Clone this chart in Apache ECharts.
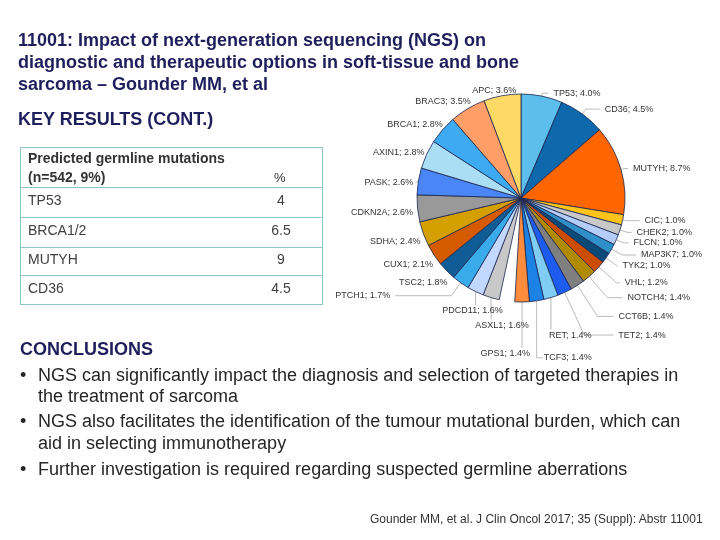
<!DOCTYPE html>
<html>
<head>
<meta charset="utf-8">
<script src="https://cdn.jsdelivr.net/npm/echarts@6/dist/echarts.min.js"></script>
<style>
  html, body { margin:0; padding:0; width:720px; height:540px; background:#fff; overflow:hidden; }
  #chart { position:absolute; left:0; top:0; width:720px; height:540px; }
  .t { position:absolute; font-family: Arial, "Liberation Sans", sans-serif; white-space:nowrap; }
  .title { color:#1e1e5c; font-weight:bold; font-size:18px; line-height:22px; }
  .tb { position:absolute; left:20px; top:147px; width:301px; height:156px; border:1px solid #8cc6cc; }
  .row { position:absolute; left:0; width:301px; border-top:1px solid #8cc6cc; }
  .cell { position:absolute; font-family: Arial, "Liberation Sans", sans-serif; font-size:14px; color:#404040; white-space:nowrap; }
  .body { color:#262626; font-size:18px; }
</style>
</head>
<body>
<div id="chart"></div>

<div class="t title" style="left:18px; top:29px;">11001: Impact of next-generation sequencing (NGS) on<br>diagnostic and therapeutic options in soft-tissue and bone<br>sarcoma – Gounder MM, et al</div>
<div class="t title" style="left:18px; top:108px;">KEY RESULTS (CONT.)</div>

<div class="tb">
  <div class="cell" style="left:7px; top:1px; font-weight:bold; font-size:14px; color:#333; line-height:19px;">Predicted germline mutations<br>(n=542, 9%)</div>
  <div class="cell" style="left:253px; top:22px; font-size:13px; color:#333;">%</div>
  <div class="row" style="top:39px;"></div>
  <div class="row" style="top:69px;"></div>
  <div class="row" style="top:99px;"></div>
  <div class="row" style="top:127px;"></div>
  <div id="tbody"></div>
</div>

<div class="t title" style="left:20px; top:338px;">CONCLUSIONS</div>
<div class="t body" style="left:20px; top:365px;">•</div>
<div class="t body" style="left:38px; top:365px;">NGS can significantly impact the diagnosis and selection of targeted therapies in</div>
<div class="t body" style="left:38px; top:386px;">the treatment of sarcoma</div>
<div class="t body" style="left:20px; top:411px;">•</div>
<div class="t body" style="left:38px; top:411px;">NGS also facilitates the identification of the tumour mutational burden, which can</div>
<div class="t body" style="left:38px; top:433px;">aid in selecting immunotherapy</div>
<div class="t body" style="left:20px; top:459px;">•</div>
<div class="t body" style="left:38px; top:459px;">Further investigation is required regarding suspected germline aberrations</div>
<div class="t" style="left:370px; top:512px; font-size:12px; color:#333;">Gounder MM, et al. J Clin Oncol 2017; 35 (Suppl): Abstr 11001</div>

<script>
// Table data
var tableGenes = ['TP53', 'BRCA1/2', 'MUTYH', 'CD36'];
var tableValues = ['4', '6.5', '9', '4.5'];

// Pie data (clockwise from 12 o'clock); '' is the unlabeled empty wedge
var genes = ['TP53','CD36','MUTYH','CIC','CHEK2','FLCN','MAP3K7','TYK2','VHL','NOTCH4','CCT6B','TET2','RET','TCF3','GPS1','','ASXL1','PDCD11','PTCH1','TSC2','CUX1','SDHA','CDKN2A','PASK','AXIN1','BRCA1','BRAC3','APC'];
var values = [4.0,4.5,8.7,1.0,1.0,1.0,1.0,1.0,1.2,1.4,1.4,1.4,1.4,1.4,1.4,1.5,1.6,1.6,1.7,1.8,2.1,2.4,2.6,2.6,2.8,2.8,3.5,3.6];
var colors = ['#5dbdeb','#0e68ac','#ff6600','#ffc31a','#c8c8c8','#b4ccf8','#2f8fc8','#0a4a78','#cc4c00','#b08a00','#7f7f7f','#1e5cf0','#7fccf5','#1c82e6','#ff8c3c','transparent','#c8c8c8','#c3d8ff','#3aabea','#0f5c96','#d55a00','#d4a000','#999999','#4a86f5','#abddf5','#3daaf2','#ff9e66','#ffd966'];

// label line styling per gene (radial length, horizontal length)
var lineLen = {
  TP53:[3,6], CD36:[6,14], MUTYH:[4,3], CIC:[4,13], CHEK2:[8,4], FLCN:[8,5], MAP3K7:[12,14], TYK2:[14,0],
  VHL:[24,3], NOTCH4:[28,15], CCT6B:[37,16], TET2:[47,29], PTCH1:[16,56]
};
// special placements (label below a vertical leader, above the slice, or hugging the rim)
var place = {
  APC:{mode:'above', align:'right', dx:14},
  PDCD11:{mode:'drop', drop:14, align:'center', dx:-3},
  ASXL1:{mode:'drop', drop:22, align:'center', dx:11},
  GPS1:{mode:'drop', drop:46, align:'right', dx:8},
  RET:{mode:'drop', drop:32, align:'left', dx:-2},
  TCF3:{mode:'side', drop:57, side:6},
  BRAC3:{mode:'hug'}, BRCA1:{mode:'hug'}, AXIN1:{mode:'hug'}, PASK:{mode:'hug', line:true},
  CDKN2A:{mode:'hug'}, SDHA:{mode:'hug'}, CUX1:{mode:'hug'}, TSC2:{mode:'hug'}
};
var CX = 521, CY = 198, R = 104;

var tb = document.getElementById('tbody');
var rowTops = [44, 74, 103, 132];
tableGenes.forEach(function(g, i) {
  var a = document.createElement('div');
  a.className = 'cell'; a.style.left = '7px'; a.style.top = rowTops[i] + 'px'; a.textContent = g;
  tb.appendChild(a);
  var b = document.createElement('div');
  b.className = 'cell'; b.style.left = '240px'; b.style.width = '40px'; b.style.textAlign = 'center';
  b.style.top = rowTops[i] + 'px'; b.textContent = tableValues[i];
  tb.appendChild(b);
});

var chart = echarts.init(document.getElementById('chart'));
var data = genes.map(function(g, i) {
  var d = { name: g, value: values[i], itemStyle: { color: colors[i] } };
  if (!g) {
    d.itemStyle = { color: 'rgba(0,0,0,0)', borderWidth: 0 };
    d.label = { show: false };
    d.labelLine = { show: false };
  } else if (lineLen[g]) {
    d.labelLine = { length: lineLen[g][0], length2: lineLen[g][1] };
  }
  return d;
});

chart.setOption({
  animation: false,
  series: [{
    type: 'pie',
    center: [CX, CY],
    radius: [0, R],
    startAngle: 90,
    clockwise: true,
    avoidLabelOverlap: false,
    itemStyle: { borderColor: '#1b2550', borderWidth: 0.8 },
    label: {
      show: true,
      position: 'outside',
      overflow: 'none',
      fontFamily: 'Arial',
      fontSize: 9,
      color: '#333',
      formatter: function(p) { return p.name + '; ' + p.value.toFixed(1) + '%'; }
    },
    labelLine: { show: true, length: 4, length2: 3, lineStyle: { color: '#aaa', width: 0.8 } },
    labelLayout: function(params) {
      var g = genes[params.dataIndex];
      var cfg = place[g];
      if (!cfg || !params.labelLinePoints) return {};
      var p0 = params.labelLinePoints[0];
      if (cfg.mode === 'above') {
        return { x: p0[0] + cfg.dx, y: p0[1] - 1, align: cfg.align, verticalAlign: 'bottom',
                 labelLinePoints: [p0, p0, p0] };
      }
      if (cfg.mode === 'drop') {
        var p1 = [p0[0], p0[1] + cfg.drop];
        return { x: p1[0] + cfg.dx, y: p1[1] + 1, align: cfg.align, verticalAlign: 'top',
                 labelLinePoints: [p0, p1, p1] };
      }
      if (cfg.mode === 'side') {
        var q1 = [p0[0], p0[1] + cfg.drop];
        var q2 = [q1[0] + cfg.side, q1[1]];
        return { x: q2[0] + 1, y: q2[1], align: 'left', verticalAlign: 'middle',
                 labelLinePoints: [p0, q1, q2] };
      }
      if (cfg.mode === 'hug') {
        var s = Math.abs(p0[0] - CX) / R;
        var c = Math.abs(p0[1] - CY) / R;
        var lx = p0[0] - 8 * s + 3 + 5 * c;
        var ly = p0[1] + 12 * (p0[1] - CY) / R + 3;
        var pts = cfg.line ? [p0, [lx + 1, ly], [lx + 1, ly]] : [p0, p0, p0];
        return { x: lx - (cfg.line ? 1 : 0), y: ly, align: 'right', verticalAlign: 'middle',
                 labelLinePoints: pts };
      }
      return {};
    },
    data: data
  }]
});
</script>
</body>
</html>
